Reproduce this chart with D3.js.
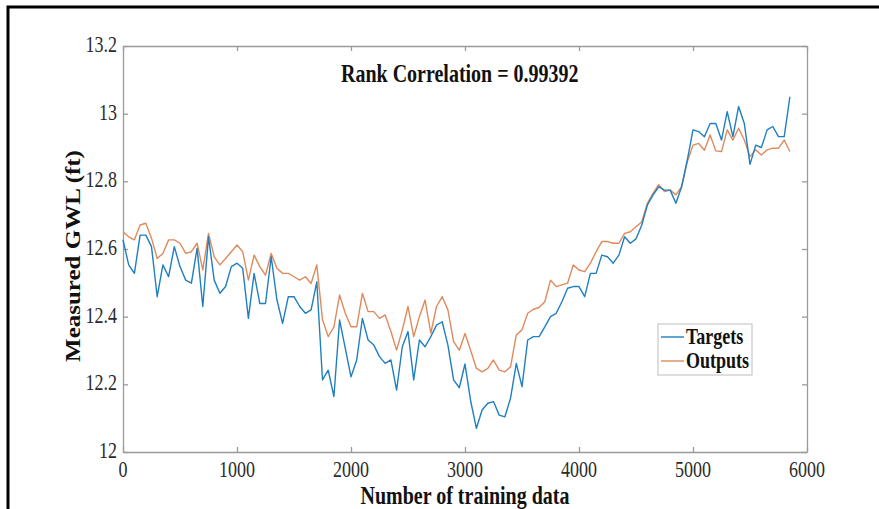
<!DOCTYPE html>
<html lang="en">
<head>
    <meta charset="UTF-8">
    <title>Rank Correlation</title>
    <style>
        body { margin: 0; background: #fff; }
        svg { display: block; }
        .tick-label { font-family: "Liberation Serif", "Times New Roman", serif; font-size: 18px; fill: #2b2b2b; }
        .bold-label { font-family: "Liberation Serif", "Times New Roman", serif; font-weight: bold; fill: #111; }
    </style>
</head>
<body>
    <svg id="chart" width="879" height="509"></svg>

    <script src="https://d3js.org/d3.v7.min.js"></script>

    <script>
        // sample spacing (number of training data between readings)
        const STEP = 50;

        // measured GWL (ft), every 50 samples
        const targets = [
            12.627, 12.553, 12.528, 12.641, 12.641, 12.607, 12.459, 12.553, 12.518, 12.607,
            12.548, 12.508, 12.499, 12.602, 12.430, 12.636, 12.508, 12.469, 12.489, 12.548,
            12.558, 12.543, 12.395, 12.528, 12.439, 12.439, 12.577, 12.450, 12.380, 12.459,
            12.459, 12.430, 12.410, 12.420, 12.503, 12.213, 12.242, 12.164, 12.390, 12.306,
            12.222, 12.272, 12.395, 12.331, 12.316, 12.282, 12.262, 12.272, 12.183, 12.311,
            12.356, 12.213, 12.331, 12.311, 12.341, 12.375, 12.385, 12.316, 12.213, 12.190,
            12.260, 12.150, 12.070, 12.124, 12.144, 12.149, 12.109, 12.104, 12.160, 12.262,
            12.193, 12.331, 12.341, 12.341, 12.370, 12.400, 12.410, 12.444, 12.484, 12.489,
            12.489, 12.459, 12.528, 12.528, 12.582, 12.577, 12.558, 12.582, 12.636, 12.617,
            12.630, 12.670, 12.730, 12.760, 12.784, 12.774, 12.774, 12.735, 12.784, 12.863,
            12.952, 12.947, 12.932, 12.971, 12.971, 12.922, 13.006, 12.932, 13.021, 12.971,
            12.850, 12.907, 12.900, 12.952, 12.962, 12.932, 12.932, 13.050
        ];

        const outputs = [
            12.651, 12.636, 12.627, 12.671, 12.676, 12.632, 12.572, 12.587, 12.627, 12.627,
            12.617, 12.587, 12.592, 12.617, 12.538, 12.646, 12.577, 12.553, 12.572, 12.592,
            12.612, 12.592, 12.508, 12.582, 12.548, 12.523, 12.587, 12.543, 12.528, 12.528,
            12.518, 12.508, 12.518, 12.498, 12.553, 12.391, 12.341, 12.370, 12.464, 12.410,
            12.370, 12.370, 12.469, 12.415, 12.415, 12.395, 12.405, 12.356, 12.301, 12.361,
            12.430, 12.341, 12.400, 12.449, 12.351, 12.430, 12.459, 12.420, 12.326, 12.301,
            12.350, 12.300, 12.247, 12.237, 12.247, 12.272, 12.242, 12.237, 12.252, 12.346,
            12.361, 12.410, 12.422, 12.427, 12.444, 12.508, 12.489, 12.494, 12.499, 12.553,
            12.538, 12.533, 12.558, 12.592, 12.622, 12.622, 12.617, 12.617, 12.646, 12.651,
            12.666, 12.680, 12.735, 12.765, 12.790, 12.770, 12.774, 12.760, 12.784, 12.858,
            12.907, 12.912, 12.892, 12.937, 12.890, 12.888, 12.952, 12.922, 12.957, 12.922,
            12.873, 12.893, 12.878, 12.893, 12.898, 12.898, 12.922, 12.888
        ];

        const xTicks = [0, 1000, 2000, 3000, 4000, 5000, 6000];
        const yTicks = [12, 12.2, 12.4, 12.6, 12.8, 13, 13.2];
        const seriesNames = ["Targets", "Outputs"];
        const titleText = "Rank Correlation = 0.99392";

        const colors = { Targets: "#1f7fbf", Outputs: "#df8a5c" };
        const stretch = 1.25;   // the picture is taller than wide, text looks stretched

        const svg = d3.select("#chart");

        // outer frame
        svg.append("rect")
            .attr("x", 8).attr("y", 7)
            .attr("width", 900).attr("height", 600)
            .attr("fill", "none")
            .attr("stroke", "#000")
            .attr("stroke-width", 3);

        const plot = { left: 123, right: 807, top: 46, bottom: 452 };

        const x = d3.scaleLinear().domain([0, 6000]).range([plot.left, plot.right]);
        const y = d3.scaleLinear().domain([12, 13.2]).range([plot.bottom, plot.top]);

        const axisColor = "#9a9a9a";
        const fmt = d => d3.format("~g")(d);

        // box axes on all four sides, ticks pointing inward
        const gx = svg.append("g")
            .attr("transform", "translate(0," + plot.bottom + ")")
            .call(d3.axisBottom(x).tickValues(xTicks).tickSizeInner(-5).tickSizeOuter(0).tickFormat(""));
        const gy = svg.append("g")
            .attr("transform", "translate(" + plot.left + ",0)")
            .call(d3.axisLeft(y).tickValues(yTicks).tickSizeInner(-5).tickSizeOuter(0).tickFormat(""));
        const gxTop = svg.append("g")
            .attr("transform", "translate(0," + plot.top + ")")
            .call(d3.axisTop(x).tickValues(xTicks).tickSizeInner(-5).tickSizeOuter(0).tickFormat(""));
        const gyRight = svg.append("g")
            .attr("transform", "translate(" + plot.right + ",0)")
            .call(d3.axisRight(y).tickValues(yTicks).tickSizeInner(-5).tickSizeOuter(0).tickFormat(""));

        [gx, gy, gxTop, gyRight].forEach(g => {
            g.selectAll("path, line").attr("stroke", axisColor).attr("stroke-width", 1.3);
        });

        // stretched text helper
        function label(parent, tx, ty, text, cls, anchor, rotate, size) {
            const t = parent.append("text")
                .attr("class", cls)
                .attr("transform", "translate(" + tx + "," + ty + ") scale(1," + stretch + ")" + (rotate ? " rotate(" + rotate + ")" : ""))
                .attr("text-anchor", anchor)
                .text(text);
            if (size) t.style("font-size", size + "px");
            return t;
        }

        // tick labels
        xTicks.forEach(v => label(svg, x(v), 477, fmt(v), "tick-label", "middle"));
        yTicks.forEach(v => label(svg, 117, y(v) + 6, fmt(v), "tick-label", "end"));

        // lines
        const line = d3.line()
            .x((d, i) => x(i * STEP))
            .y(d => y(d));

        svg.append("path")
            .datum(outputs)
            .attr("fill", "none")
            .attr("stroke", colors.Outputs)
            .attr("stroke-width", 1.4)
            .attr("stroke-linejoin", "round")
            .attr("d", line);

        svg.append("path")
            .datum(targets)
            .attr("fill", "none")
            .attr("stroke", colors.Targets)
            .attr("stroke-width", 1.4)
            .attr("stroke-linejoin", "round")
            .attr("d", line);

        // title and axis labels
        label(svg, 341, 82, titleText, "bold-label", "start", 0, 20);
        label(svg, 465, 504, "Number of training data", "bold-label", "middle", 0, 20);
        label(svg, 80, 256, "Measured GWL (ft)", "bold-label", "middle", -90, 20);

        // legend
        const legend = svg.append("g");
        legend.append("rect")
            .attr("x", 658).attr("y", 324)
            .attr("width", 94).attr("height", 51)
            .attr("fill", "#fff")
            .attr("stroke", "#bdbdbd")
            .attr("stroke-width", 1);

        seriesNames.forEach((name, i) => {
            const ly = 337 + i * 24;
            legend.append("line")
                .attr("x1", 661).attr("x2", 684)
                .attr("y1", ly).attr("y2", ly)
                .attr("stroke", colors[name])
                .attr("stroke-width", 1.4);
            label(legend, 686, ly + 7, name, "bold-label", "start", 0, 18);
        });
    </script>
</body>
</html>
